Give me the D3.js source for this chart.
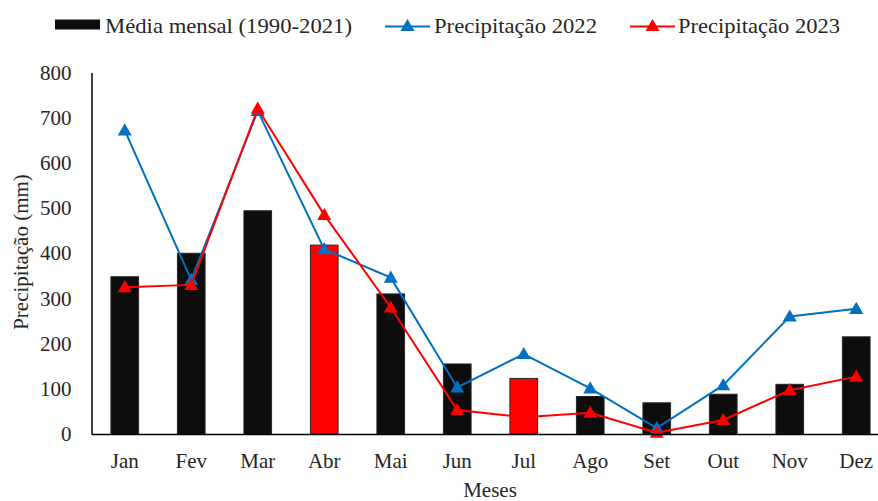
<!DOCTYPE html>
<html><head><meta charset="utf-8">
<script src="https://cdn.jsdelivr.net/npm/d3@7"></script>
<style>body{margin:0;background:#fff}svg{display:block}</style>
</head><body><svg id="c" width="878" height="501"></svg>
<script>
const months = ["Jan","Fev","Mar","Abr","Mai","Jun","Jul","Ago","Set","Out","Nov","Dez"];
const media = [348,400,494,418,310,155,123,83,69,88,110,215];
const highlight = [false,false,false,true,false,false,true,false,false,false,false,false];
const p2022 = [672,341,715,409,346,103,177,101,13,108,260,277];
const p2023 = [325,330,720,485,280,53,37,47,3,31,97,127];
const yTicks = [0,100,200,300,400,500,600,700,800];
const seriesNames = ["Média mensal (1990-2021)","Precipitação 2022","Precipitação 2023"];

const FONT = "Liberation Serif";
const TXT = "#262626";
const svg = d3.select("#c");
const x = d3.scaleBand().domain(months).range([91.5, 889.5]).paddingInner(0.584).paddingOuter(0.292);
const y = d3.scaleLinear().domain([0,800]).range([434,72.5]);

// bars
svg.append("g").selectAll("rect").data(media).join("rect")
  .attr("x",(d,i)=>x(months[i]))
  .attr("y",d=>y(d))
  .attr("width",x.bandwidth())
  .attr("height",d=>y(0)-y(d))
  .attr("fill",(d,i)=>highlight[i]?"#ff0000":"#0d0d0d")
  .attr("stroke","#262626").attr("stroke-width",1);

const cx = i => x(months[i]) + x.bandwidth()/2;
const tri = d3.symbol().type(d3.symbolTriangle).size(85);

function drawLine(data,color){
  const line = d3.line().x((d,i)=>cx(i)).y(d=>y(d));
  svg.append("path").datum(data).attr("d",line).attr("fill","none").attr("stroke",color).attr("stroke-width",2);
  svg.append("g").selectAll("path").data(data).join("path")
    .attr("d",tri).attr("transform",(d,i)=>`translate(${cx(i)},${y(d)+1})`).attr("fill",color);
}
drawLine(p2022,"#0070c0");
drawLine(p2023,"#ff0000");

// axes
const ya = svg.append("g").attr("transform","translate(91.5,0)")
  .call(d3.axisLeft(y).tickValues(yTicks).tickSize(0).tickPadding(20));
ya.select(".domain").attr("stroke","#000").attr("stroke-width",1.5);
ya.selectAll("text").attr("font-size",21).attr("font-family",FONT).attr("fill",TXT);

const xa = svg.append("g").attr("transform","translate(0,434)")
  .call(d3.axisBottom(x).tickSize(0).tickPadding(19));
xa.select(".domain").attr("stroke","#000").attr("stroke-width",1.5);
xa.selectAll("text").attr("font-size",21).attr("font-family",FONT).attr("fill",TXT);

svg.append("text").attr("x",490).attr("y",497).attr("text-anchor","middle")
  .attr("font-size",21).attr("font-family",FONT).attr("fill",TXT).text("Meses");
svg.append("text").attr("transform","translate(28,252) rotate(-90)").attr("text-anchor","middle")
  .attr("font-size",21).attr("font-family",FONT).attr("fill",TXT).text("Precipitação (mm)");

// legend
const lg = svg.append("g");
lg.append("rect").attr("x",55).attr("y",19.5).attr("width",45).attr("height",10).attr("fill","#0d0d0d");
lg.append("text").attr("x",105).attr("y",33).attr("font-size",21).attr("font-family",FONT).attr("fill",TXT)
  .attr("textLength",247).attr("lengthAdjust","spacingAndGlyphs").text(seriesNames[0]);
[[385,"#0070c0",seriesNames[1],434,163],[630,"#ff0000",seriesNames[2],678,162]].forEach(([lx,col,name,tx,tl])=>{
  lg.append("line").attr("x1",lx).attr("x2",lx+45).attr("y1",26.5).attr("y2",26.5).attr("stroke",col).attr("stroke-width",2);
  lg.append("path").attr("d",tri).attr("transform",`translate(${lx+22.5},27)`).attr("fill",col);
  lg.append("text").attr("x",tx).attr("y",33).attr("font-size",21).attr("font-family",FONT).attr("fill",TXT)
    .attr("textLength",tl).attr("lengthAdjust","spacingAndGlyphs").text(name);
});
</script></body></html>
